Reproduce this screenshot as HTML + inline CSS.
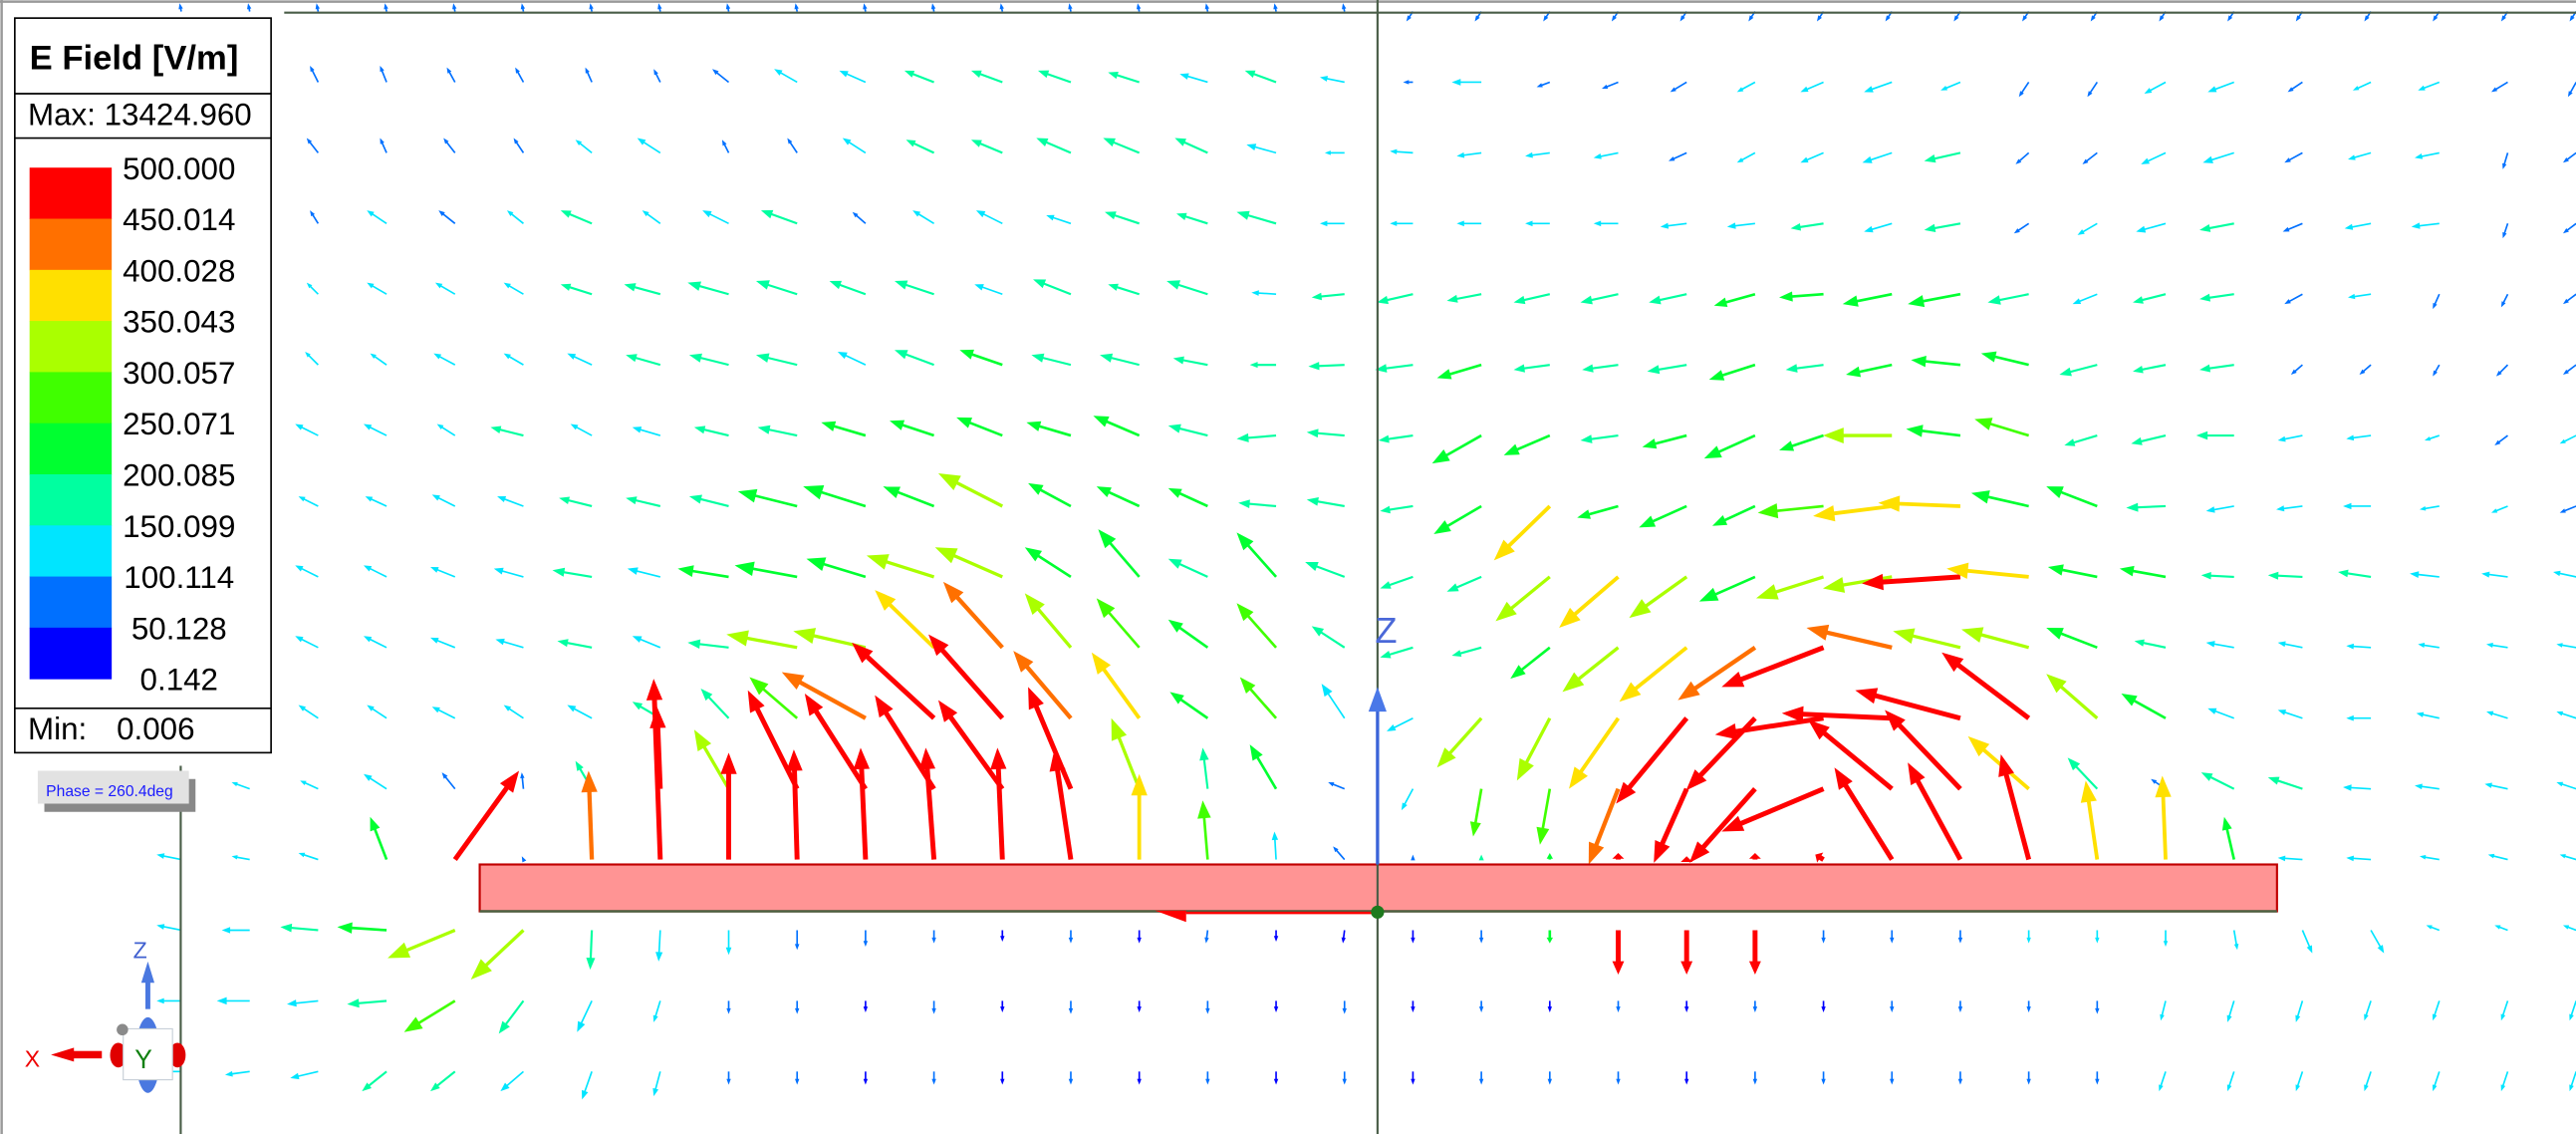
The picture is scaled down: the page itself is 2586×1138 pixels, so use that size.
<!DOCTYPE html>
<html>
<head>
<meta charset="utf-8">
<style>
html,body{margin:0;padding:0;background:#fff;}
svg{display:block;}
text{font-family:"Liberation Sans",Arial,sans-serif;}
</style>
</head>
<body>
<svg id="plot" width="2586" height="1138" viewBox="0 0 1568 690" preserveAspectRatio="none" xmlns="http://www.w3.org/2000/svg">
  <rect x="0" y="0" width="1568" height="690" fill="#ffffff"/>
  <line x1="0" y1="1" x2="1568" y2="1" stroke="#9a9a9a" stroke-width="1.5"/>
  <line x1="1" y1="0" x2="1" y2="690" stroke="#9a9a9a" stroke-width="1.5"/>
  <g id="arrows"></g>
  <line x1="173" y1="7.7" x2="1568" y2="7.7" stroke="#4a5e48" stroke-width="1.3"/>
  <line x1="110" y1="466" x2="110" y2="690" stroke="#4a5e48" stroke-width="1.3"/>
  <rect x="292" y="526" width="1094" height="28.5" fill="#ff9494" stroke="#c00000" stroke-width="1.3"/>
  <line x1="292" y1="554.5" x2="1386" y2="554.5" stroke="#4a6040" stroke-width="1.5"/>
  <line x1="722" y1="555.5" x2="838" y2="555.5" stroke="#ff0000" stroke-width="1.5"/>
  <polygon points="703,554 722,554 722,561" fill="#ff0000"/>
  <line x1="838.5" y1="0" x2="838.5" y2="690" stroke="#4a5e48" stroke-width="1.3"/>
  <line x1="838.5" y1="432" x2="838.5" y2="526" stroke="#3a64d8" stroke-width="2"/>
  <polygon points="833,433 844,433 838.5,418" fill="#4a78e8"/>
  <text x="837" y="391" font-size="22" fill="#4a68d8">Z</text>
  <circle cx="838.5" cy="555" r="4" fill="#1e7a1e"/>

  <g id="legend">
    <rect x="9" y="11" width="156" height="447" fill="#ffffff" stroke="#000" stroke-width="1"/>
    <line x1="9" y1="57" x2="165" y2="57" stroke="#000" stroke-width="1"/>
    <line x1="9" y1="84" x2="165" y2="84" stroke="#000" stroke-width="1"/>
    <line x1="9" y1="431" x2="165" y2="431" stroke="#000" stroke-width="1"/>
    <text x="18" y="42" font-size="21" font-weight="bold" fill="#000">E Field [V/m]</text>
    <text x="17" y="76" font-size="19" fill="#000">Max: 13424.960</text>
    <text x="17" y="450" font-size="19" fill="#000">Min:</text>
    <text x="71" y="450" font-size="19" fill="#000">0.006</text>
    <g id="legend-bands"></g>
  </g>

  <g>
    <rect x="27" y="474" width="92" height="20" fill="#888888"/>
    <rect x="23" y="469" width="92" height="20" fill="#e2e2e2"/>
    <text x="28" y="484.5" font-size="9.5" fill="#1a1aff">Phase = 260.4deg</text>
  </g>

  <g>
    <ellipse cx="90" cy="642" rx="7.5" ry="23" fill="#4a78e0"/>
    <line x1="90" y1="614" x2="90" y2="594" stroke="#4a78e0" stroke-width="3"/>
    <polygon points="86,598 94,598 90,585" fill="#4a78e0"/>
    <text x="81" y="583" font-size="14" fill="#4060d0">Z</text>
    <ellipse cx="72" cy="642" rx="5" ry="7.5" fill="#e00000"/>
    <ellipse cx="108" cy="642" rx="5" ry="7.5" fill="#e00000"/>
    <rect x="42" y="639.5" width="20" height="4.5" fill="#ee0000"/>
    <polygon points="31,641.8 45,637.5 45,646" fill="#ee0000"/>
    <text x="15" y="649" font-size="14" fill="#ee0000">X</text>
    <rect x="75" y="626" width="30" height="31" fill="#ffffff" stroke="#c8d0d8" stroke-width="0.7"/>
    <circle cx="74.5" cy="626.5" r="3.5" fill="#8a8a8a"/>
    <text x="82" y="650" font-size="16" fill="#108010">Y</text>
  </g>
</svg>
<script>
// Legend values (top to bottom)
const LEGEND_LABELS = ["500.000","450.014","400.028","350.043","300.057","250.071","200.085","150.099","100.114","50.128","0.142"];
const LEVEL_COLORS = ["#0000ff","#0070ff","#00e5ff","#00ffa0","#00ff30","#40ff00","#aaff00","#ffe000","#ff7000","#ff0000"];

// Vector field: per row, [dx, dy, colorLevel] for columns k = -1 .. 34
const ROW0 = [[-1,-5,1],[-1,-5,1],[-1,-5,1],[-1,-5,1],[-1,-5,1],[-1,-5,1],[-1,-5,1],[-1,-5,1],[-1,-5,1],[-1,-5,1],[-1,-5,1],[-1,-5,1],[-1,-5,1],[-1,-5,1],[-1,-5,1],[-1,-5,1],[-1,-5,1],[-1,-5,1],[-4,6,1],[-4,6,1],[-4,6,1],[-4,6,1],[-4,6,1],[-4,6,1],[-4,6,1],[-4,6,1],[-4,6,1],[-4,6,1],[-4,6,1],[-4,6,1],[-4,6,1],[-4,6,1],[-4,6,1],[-4,6,1],[-4,6,1],[-4,6,1]];
const ROW1 = [[-5,-9,1],[-5,-9,1],[-5,-10,1],[-4,-10,1],[-5,-9,1],[-5,-9,1],[-4,-9,1],[-4,-8,1],[-10,-8,1],[-14,-8,2],[-16,-7,2],[-18,-7,3],[-19,-7,3],[-20,-7,3],[-19,-6,3],[-17,-5,2],[-19,-7,3],[-15,-3,2],[-6,0,1],[-18,0,2],[-8,3,1],[-10,4,1],[-10,6,1],[-11,6,2],[-14,6,2],[-17,6,2],[-12,5,2],[-6,9,1],[-6,9,1],[-13,7,2],[-16,6,2],[-9,6,1],[-11,5,2],[-13,5,2],[-10,6,1],[-5,9,1]];
const ROW2 = [[-6,-9,1],[-6,-9,1],[-7,-9,1],[-4,-9,1],[-7,-9,1],[-6,-9,1],[-10,-8,2],[-14,-9,2],[-4,-8,1],[-6,-9,1],[-14,-9,2],[-17,-8,3],[-19,-8,3],[-21,-9,3],[-22,-9,3],[-20,-9,3],[-18,-5,2],[-12,0,2],[-14,-1,2],[-15,2,2],[-15,2,2],[-15,3,2],[-11,5,1],[-11,6,2],[-14,6,2],[-18,6,2],[-22,5,3],[-8,7,1],[-9,7,1],[-15,7,2],[-19,6,2],[-11,6,1],[-14,4,2],[-15,3,2],[-3,10,1],[-8,6,1]];
const ROW3 = [[-8,-8,1],[-8,-8,1],[-5,-8,1],[-12,-8,2],[-10,-8,1],[-10,-8,2],[-19,-8,3],[-11,-8,2],[-16,-8,2],[-22,-8,3],[-8,-7,1],[-13,-8,2],[-16,-8,2],[-15,-5,2],[-21,-7,3],[-19,-6,3],[-24,-7,3],[-15,0,2],[-14,0,2],[-15,0,2],[-15,0,2],[-15,0,2],[-16,2,2],[-17,2,2],[-20,3,3],[-17,5,2],[-22,4,3],[-9,6,1],[-12,7,2],[-18,5,2],[-21,4,3],[-12,5,1],[-16,3,2],[-17,2,2],[-3,9,1],[-8,6,1]];
const ROW4 = [[-8,-7,2],[-8,-7,2],[-7,-7,2],[-12,-7,2],[-12,-7,2],[-12,-7,2],[-19,-6,3],[-22,-6,3],[-25,-7,3],[-25,-8,3],[-22,-8,3],[-24,-8,3],[-17,-6,2],[-23,-9,3],[-19,-6,3],[-25,-8,3],[-15,-1,2],[-20,2,3],[-22,5,3],[-21,4,3],[-22,5,3],[-23,5,3],[-23,5,3],[-25,7,4],[-27,2,4],[-30,6,4],[-32,6,4],[-25,5,3],[-15,6,2],[-20,5,3],[-21,3,3],[-11,6,1],[-14,2,2],[-4,9,1],[-4,8,1],[-8,6,1]];
const ROW5 = [[-9,-8,2],[-9,-8,2],[-8,-8,2],[-10,-7,2],[-13,-7,2],[-12,-7,2],[-15,-7,2],[-21,-6,3],[-24,-6,3],[-25,-6,3],[-17,-8,2],[-24,-9,3],[-26,-9,4],[-24,-6,3],[-24,-6,3],[-21,-4,3],[-16,0,3],[-22,1,3],[-23,3,3],[-27,8,4],[-22,3,3],[-22,3,3],[-24,4,3],[-28,9,4],[-23,3,3],[-28,6,4],[-30,-3,4],[-29,-7,4],[-23,6,3],[-20,4,3],[-21,3,3],[-7,6,1],[-7,6,1],[-4,7,1],[-7,7,1],[-8,6,1]];
const ROW6 = [[-12,-7,2],[-13,-7,2],[-14,-7,2],[-14,-7,2],[-11,-7,2],[-20,-5,3],[-13,-7,2],[-17,-5,2],[-21,-5,3],[-24,-5,3],[-27,-8,4],[-27,-9,4],[-28,-11,4],[-27,-8,4],[-28,-12,4],[-24,-6,3],[-24,2,3],[-23,-2,3],[-21,3,3],[-30,17,4],[-28,12,4],[-23,3,3],[-27,7,4],[-31,14,4],[-27,9,4],[-42,0,6],[-33,-4,4],[-33,-10,5],[-20,6,3],[-21,5,3],[-23,0,3],[-15,3,2],[-15,2,2],[-9,3,2],[-8,6,1],[-10,5,2]];
const ROW7 = [[-12,-6,2],[-12,-6,2],[-12,-6,2],[-13,-6,2],[-14,-7,2],[-16,-6,2],[-20,-5,3],[-21,-5,3],[-24,-6,3],[-36,-9,4],[-38,-12,4],[-31,-12,4],[-39,-20,6],[-26,-14,4],[-26,-12,4],[-24,-11,4],[-23,-2,3],[-23,-4,3],[-20,3,3],[-29,17,4],[-34,33,7],[-25,7,4],[-29,13,4],[-26,12,4],[-40,4,5],[-48,6,7],[-50,-2,7],[-35,-8,4],[-31,-12,4],[-24,1,3],[-17,3,2],[-16,2,2],[-17,0,2],[-12,2,2],[-10,4,2],[-10,4,1]];
const ROW8 = [[-14,-7,2],[-14,-7,2],[-14,-7,2],[-14,-7,2],[-15,-6,2],[-18,-5,2],[-24,-4,3],[-20,-5,2],[-31,-5,4],[-38,-7,4],[-36,-11,4],[-41,-13,6],[-41,-18,6],[-28,-18,4],[-25,-29,4],[-24,-11,3],[-24,-27,4],[-24,-9,3],[-20,7,3],[-21,9,3],[-33,27,6],[-36,31,7],[-35,25,6],[-34,15,4],[-41,13,6],[-42,7,6],[-60,4,9],[-50,-5,7],[-30,-6,4],[-28,-5,4],[-20,-1,3],[-21,-1,3],[-20,-3,3],[-18,-2,2],[-16,-2,2],[-14,-3,2]];
const ROW9 = [[-14,-7,2],[-14,-7,2],[-14,-7,2],[-14,-7,2],[-15,-6,2],[-17,-5,2],[-21,-4,3],[-17,-7,2],[-25,-3,3],[-43,-8,6],[-44,-10,6],[-36,-35,7],[-36,-40,8],[-28,-33,6],[-26,-30,5],[-24,-17,4],[-24,-27,5],[-20,-13,3],[-20,6,3],[-18,5,3],[-24,19,4],[-34,27,6],[-41,33,7],[-47,32,8],[-62,24,9],[-52,-12,8],[-41,-10,6],[-41,-11,6],[-31,-12,4],[-19,-4,3],[-17,-3,2],[-15,-3,2],[-15,-1,2],[-13,-2,2],[-13,-2,2],[-12,-2,2]];
const ROW10 = [[-12,-8,2],[-12,-8,2],[-12,-8,2],[-12,-8,2],[-14,-7,2],[-12,-8,2],[-15,-8,2],[-17,-10,3],[-17,-18,3],[-29,-25,5],[-51,-28,8],[-50,-46,9],[-45,-51,9],[-35,-41,8],[-29,-40,7],[-23,-16,4],[-22,-25,5],[-14,-21,2],[-16,8,2],[-27,30,6],[-20,38,6],[-30,43,7],[-43,52,9],[-42,44,9],[-66,10,9],[-67,-3,9],[-64,-17,9],[-53,-40,9],[-31,-27,6],[-27,-15,4],[-16,-6,2],[-15,-5,2],[-15,0,2],[-14,-3,2],[-13,-4,2],[-12,-4,2]];
const ROW11 = [[-12,-3,2],[-11,-4,2],[-11,-5,2],[-14,-9,2],[-8,-10,1],[-1,-10,1],[-10,-17,3],[-2,-50,9],[-21,-36,6],[-30,-60,9],[-37,-58,9],[-36,-57,9],[-39,-54,9],[-26,-62,9],[-17,-43,6],[-3,-25,3],[-16,-27,4],[-10,-4,1],[-7,13,2],[-5,29,5],[-6,34,5],[-18,46,8],[-20,45,9],[-40,45,9],[-62,26,9],[-51,-42,9],[-46,-48,9],[-37,-32,7],[-18,-19,3],[-9,-6,1],[-20,-10,3],[-21,-7,3],[-17,-1,2],[-15,-2,2],[-14,-3,2],[-12,-4,2]];
const ROW12 = [[-15,-3,2],[-11,-2,2],[-12,-4,2],[-10,-26,4],[39,-54,9],[-1,-2,1],[-2,-54,8],[-4,-110,9],[0,-65,9],[-2,-67,9],[-3,-68,9],[-5,-68,9],[-3,-68,9],[-10,-67,9],[0,-52,7],[-3,-36,5],[-1,-17,2],[-7,-8,1],[0,-3,1],[0,-3,3],[0,-4,4],[0,-4,9],[0,-2,9],[0,-4,9],[-5,-3,9],[-35,-56,9],[-32,-59,9],[-17,-64,9],[-7,-48,7],[-2,-51,7],[-6,-26,4],[-15,-1,2],[-15,-1,2],[-12,-2,2],[-12,-3,2],[-10,-3,2]];
const ROW13 = [[-15,-3,2],[-17,0,2],[-23,-2,3],[-30,-2,4],[-41,17,6],[-32,30,6],[-1,24,3],[-1,19,2],[0,15,2],[0,12,1],[0,10,1],[0,8,1],[0,7,0],[0,8,1],[0,8,0],[-1,8,1],[0,7,0],[-1,8,0],[0,8,0],[0,8,1],[0,8,4],[0,27,9],[0,27,9],[0,27,9],[0,8,1],[0,8,1],[0,8,1],[0,8,2],[0,8,2],[0,10,2],[2,12,2],[6,14,2],[8,14,2],[-8,-3,2],[-8,-3,2],[-8,-3,2]];
const ROW14 = [[-15,0,2],[-20,0,2],[-19,2,2],[-24,2,3],[-31,19,5],[-15,20,3],[-9,19,2],[-4,13,2],[0,8,1],[0,8,1],[0,7,0],[0,8,1],[0,7,0],[0,8,1],[0,7,0],[0,8,1],[0,7,0],[0,8,1],[0,7,0],[0,7,1],[0,7,0],[0,7,1],[0,7,0],[0,7,1],[0,7,0],[0,7,1],[0,7,1],[0,7,1],[0,8,1],[-3,12,2],[-4,13,2],[-4,13,2],[-4,12,2],[-4,12,2],[-4,12,2],[-4,12,2]];
const ROW15 = [[-12,0,2],[-15,2,2],[-17,4,2],[-15,12,3],[-15,12,3],[-14,12,2],[-6,17,2],[-4,15,2],[0,8,1],[0,8,1],[0,8,0],[0,8,1],[0,8,0],[0,8,1],[0,8,0],[0,8,1],[0,8,0],[0,8,1],[0,8,0],[0,8,1],[0,8,1],[0,8,1],[0,8,0],[0,8,1],[0,8,1],[0,8,1],[0,8,1],[0,8,1],[0,8,1],[-4,12,2],[-4,12,2],[-4,12,2],[-4,12,2],[-4,12,2],[-4,12,2],[-4,12,2]];
const FIELD_ROWS = [ROW0,ROW1,ROW2,ROW3,ROW4,ROW5,ROW6,ROW7,ROW8,ROW9,ROW10,ROW11,ROW12,ROW13,ROW14,ROW15];

const NS = "http://www.w3.org/2000/svg";
function xCol(k){ return 152 + 41.65*k; }
function yRow(j){ return 7 + 43*j; }
function widthForLevel(c){ return c >= 9 ? 3 : c === 8 ? 2.6 : c === 7 ? 2.3 : c === 6 ? 2 : c >= 4 ? 1.6 : c === 3 ? 1.3 : 1; }

const arrowsG = document.getElementById('arrows');
FIELD_ROWS.forEach(function(row, j){
  row.forEach(function(v, i){
    const k = i - 1;
    const x0 = xCol(k), y0 = yRow(j);
    const dx = v[0], dy = v[1];
    const col = LEVEL_COLORS[v[2]];
    const L = Math.sqrt(dx*dx + dy*dy);
    if (L < 0.5) return;
    const ux = dx/L, uy = dy/L;
    const w = widthForLevel(v[2]);
    const h = Math.min(Math.max(L*0.3, 3.5), 13);
    const hw = Math.max(h*0.38, w*1.2);
    const bx = x0 + dx - ux*h, by = y0 + dy - uy*h;
    const g = document.createElementNS(NS, 'g');
    
    
    const ln = document.createElementNS(NS, 'line');
    ln.setAttribute('x1', x0); ln.setAttribute('y1', y0);
    ln.setAttribute('x2', bx + ux*0.5); ln.setAttribute('y2', by + uy*0.5);
    ln.setAttribute('stroke', col); ln.setAttribute('stroke-width', w);
    
    
    const hd = document.createElementNS(NS, 'polygon');
    hd.setAttribute('points', (x0+dx)+','+(y0+dy)+' '+(bx - uy*hw)+','+(by + ux*hw)+' '+(bx + uy*hw)+','+(by - ux*hw));
    hd.setAttribute('fill', col);
    
    
    g.appendChild(ln); g.appendChild(hd);
    arrowsG.appendChild(g);
  });
});

// Legend bands
const bandsG = document.getElementById('legend-bands');
const nBands = LEVEL_COLORS.length;
for (let i = 0; i < nBands; i++) {
  const r = document.createElementNS(NS, 'rect');
  r.setAttribute('x', 18); r.setAttribute('y', 102 + 31.1*i);
  r.setAttribute('width', 50); r.setAttribute('height', 31.4);
  r.setAttribute('fill', LEVEL_COLORS[nBands - 1 - i]);
  
  
  bandsG.appendChild(r);
}
LEGEND_LABELS.forEach(function(lbl, i){
  const t = document.createElementNS(NS, 'text');
  t.setAttribute('x', 109); t.setAttribute('y', 102 + 31.1*i + 7);
  t.setAttribute('font-size', 19); t.setAttribute('text-anchor', 'middle');
  t.setAttribute('fill', '#000');
  
  
  t.textContent = lbl;
  bandsG.appendChild(t);
});
</script>
</body>
</html>
